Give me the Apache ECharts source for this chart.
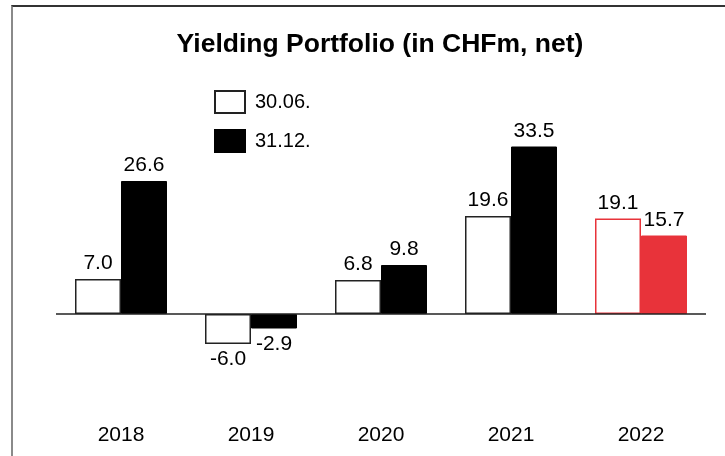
<!DOCTYPE html>
<html>
<head>
<meta charset="utf-8">
<script src="https://cdn.jsdelivr.net/npm/echarts@6/dist/echarts.min.js"></script>
<style>
html,body{margin:0;padding:0;background:#fff;}
#chart{position:absolute;left:0;top:0;width:725px;height:456px;}
#frame{position:absolute;left:11px;top:5px;width:800px;height:500px;border-top:2px solid #333;border-left:2px solid #8a8a8a;pointer-events:none;}
</style>
</head>
<body>
<div id="chart"></div>
<div id="frame"></div>
<script>
var years = ['2018', '2019', '2020', '2021', '2022'];
var mid = [7.0, -6.0, 6.8, 19.6, 19.1];   // 30.06.
var end = [26.6, -2.9, 9.8, 33.5, 15.7];  // 31.12.
var RED = '#e8333a';

// 数据项：负值标签放下面，2022 用红色
function makeData(arr, filled){
	var list = [];
	for (var i = 0; i < arr.length; i++) {
		var last = i == arr.length - 1;
		var item = {
			value: arr[i],
			label: { position: arr[i] < 0 ? 'bottom' : 'top' }
		};
		if (last) {
			item.itemStyle = filled ? { color: RED, borderColor: RED } : { color: '#fff', borderColor: RED };
		}
		list.push(item);
	}
	return list;
}

var labelStyle = {
	show: true,
	distance: 5,
	color: '#000',
	fontSize: 21,
	fontFamily: 'Liberation Sans',
	formatter: function(p){ return p.value.toFixed(1); }
};

var myChart = echarts.init(document.getElementById('chart'));
var option = {
	animation: false,
	title: {
		text: 'Yielding Portfolio (in CHFm, net)',
		left: 375,
		textAlign: 'center',
		top: 26,
		textStyle: { fontFamily: 'Liberation Sans', fontWeight: 'bold', fontSize: 26.5, color: '#000' }
	},
	legend: {
		orient: 'vertical',
		left: 209,
		top: 85,
		itemWidth: 30,
		itemHeight: 22,
		itemGap: 15,
		icon: 'rect',
		textStyle: { fontFamily: 'Liberation Sans', fontSize: 20, color: '#000', padding: [0, 0, 0, 5] },
		data: ['30.06.', '31.12.']
	},
	grid: { left: 56, right: 19, top: 114, bottom: 92 },
	xAxis: {
		type: 'category',
		data: years,
		axisLine: { show: false },
		axisTick: { show: false },
		axisLabel: { margin: 61, color: '#000', fontSize: 21, fontFamily: 'Liberation Sans' }
	},
	yAxis: {
		type: 'value',
		min: -10,
		max: 40,
		show: false,
		splitLine: { show: false }
	},
	series: [
		{
			name: '30.06.',
			type: 'bar',
			barWidth: 46,
			barGap: '0%',
			itemStyle: { color: '#fff', borderColor: '#222', borderWidth: 1.5 },
			label: labelStyle,
			data: makeData(mid, false),
			markLine: {
				silent: true,
				symbol: 'none',
				label: { show: false },
				lineStyle: { color: '#222', width: 1.5, type: 'solid' },
				data: [{ yAxis: 0 }]
			}
		},
		{
			name: '31.12.',
			type: 'bar',
			barWidth: 46,
			barGap: '0%',
			itemStyle: { color: '#000', borderColor: '#000', borderWidth: 1 },
			label: labelStyle,
			data: makeData(end, true)
		}
	]
};
myChart.setOption(option);
</script>
</body>
</html>
